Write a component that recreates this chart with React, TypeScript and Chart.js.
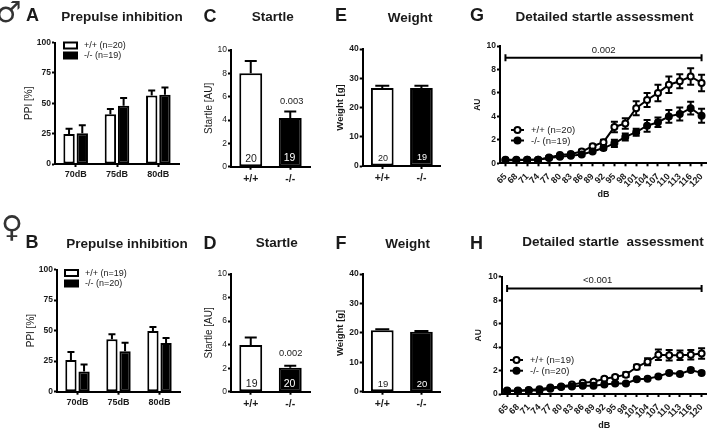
import React, { useEffect, useRef } from "react";
import Chart from "chart.js/auto";

const W = 707;
const H = 428;
const CANVAS_W = W + 20;
const SANS = '"Liberation Sans", Arial, sans-serif';
const INK = "#1a1a1a";

// ---- data ----
const ppiCategories = ["70dB", "75dB", "80dB"];
const genotypes = ["+/+", "-/-"];
const dbLevels = ["65", "68", "71", "74", "77", "80", "83", "86", "89", "92", "95", "98", "101", "104", "107", "110", "113", "116", "120"];

const ppiMaleWt = [24.7, 41, 56.3];
const ppiMaleWtErr = [4.3, 4.3, 4.1];
const ppiMaleKo = [25.3, 48, 57];
const ppiMaleKoErr = [6.6, 6.4, 6];
const ppiFemaleWt = [25.9, 43, 49.6];
const ppiFemaleWtErr = [6.5, 4, 3.4];
const ppiFemaleKo = [16.6, 33, 39.8];
const ppiFemaleKoErr = [5.7, 7, 4.2];

const startleMale = [8, 4.17];
const startleMaleErr = [1.06, 0.55];
const startleFemale = [3.97, 2.04];
const startleFemaleErr = [0.63, 0.16];

const weightMale = [26.7, 26.7];
const weightMaleErr = [0.7, 0.7];
const weightFemale = [20.9, 20.4];
const weightFemaleErr = [0.3, 0.2];

const detailMaleWt = [0.3, 0.3, 0.3, 0.3, 0.5, 0.7, 0.8, 1, 1.45, 1.8, 3.1, 3.4, 4.7, 5.4, 6, 6.7, 7, 7.4, 6.85];
const detailMaleWtErr = [0.1, 0.1, 0.1, 0.1, 0.1, 0.1, 0.1, 0.15, 0.15, 0.2, 0.45, 0.45, 0.6, 0.6, 0.7, 0.7, 0.6, 0.7, 0.7];
const detailMaleKo = [0.25, 0.25, 0.3, 0.3, 0.45, 0.55, 0.65, 0.75, 1, 1.3, 1.7, 2.25, 2.65, 3.2, 3.5, 4, 4.2, 4.7, 4.05];
const detailMaleKoErr = [0.1, 0.1, 0.1, 0.1, 0.1, 0.1, 0.1, 0.1, 0.1, 0.15, 0.3, 0.3, 0.3, 0.5, 0.4, 0.55, 0.55, 0.55, 0.6];

const detailFemaleWt = [0.3, 0.3, 0.35, 0.4, 0.55, 0.65, 0.8, 0.95, 1.05, 1.3, 1.45, 1.65, 2.3, 2.75, 3.35, 3.3, 3.3, 3.35, 3.45];
const detailFemaleWtErr = [0.1, 0.1, 0.1, 0.1, 0.1, 0.1, 0.1, 0.1, 0.1, 0.15, 0.15, 0.2, 0.2, 0.3, 0.45, 0.45, 0.4, 0.4, 0.45];
const detailFemaleKo = [0.25, 0.25, 0.3, 0.3, 0.45, 0.6, 0.65, 0.7, 0.7, 0.8, 0.9, 0.9, 1.25, 1.3, 1.5, 1.8, 1.7, 2.05, 1.8];
const detailFemaleKoErr = [0.1, 0.1, 0.1, 0.1, 0.1, 0.1, 0.1, 0.1, 0.1, 0.1, 0.1, 0.1, 0.1, 0.1, 0.12, 0.12, 0.12, 0.12, 0.12];

const bracketLevel = 9;

// ---- drawing helpers ----
type T = { t: string; x: number; y: number; f: string; c?: string; a?: CanvasTextAlign };
type L = { kind: "box" | "point"; filled: boolean; t: string; x0: number; x1: number; y: number; tx: number; font: string };

const panelPlugin = {
  id: "panelExtras",
  beforeDatasetsDraw(chart: any, _a: any, opts: any) {
    const ctx = chart.ctx;
    ctx.save();
    ctx.strokeStyle = "#000";
    ctx.lineWidth = 2;
    const y = chart.scales.y;
    chart.data.datasets.forEach((ds: any, di: number) => {
      if (!ds.errors) return;
      const meta = chart.getDatasetMeta(di);
      ds.errors.forEach((e: number, i: number) => {
        const px = meta.data[i].x;
        const v = ds.data[i];
        const top = y.getPixelForValue(v + e);
        const bot = opts.both ? y.getPixelForValue(v - e) : y.getPixelForValue(v);
        ctx.beginPath();
        ctx.moveTo(px, bot);
        ctx.lineTo(px, top);
        ctx.moveTo(px - opts.cap / 2, top);
        ctx.lineTo(px + opts.cap / 2, top);
        if (opts.both) {
          ctx.moveTo(px - opts.cap / 2, bot);
          ctx.lineTo(px + opts.cap / 2, bot);
        }
        ctx.stroke();
      });
    });
    ctx.restore();
  },
  afterDraw(chart: any, _a: any, opts: any) {
    const ctx = chart.ctx;
    ctx.save();
    (opts.legend || []).forEach((l: L) => {
      ctx.strokeStyle = "#000";
      ctx.fillStyle = l.filled ? "#000" : "#fff";
      ctx.lineWidth = 2;
      if (l.kind === "box") {
        ctx.fillRect(l.x0, l.y - 3, l.x1 - l.x0, 6);
        ctx.strokeRect(l.x0 + 1, l.y - 3, l.x1 - l.x0 - 2, 6);
      } else {
        ctx.beginPath();
        ctx.moveTo(l.x0, l.y);
        ctx.lineTo(l.x1, l.y);
        ctx.stroke();
        ctx.beginPath();
        ctx.arc((l.x0 + l.x1) / 2, l.y, 3, 0, Math.PI * 2);
        ctx.fill();
        ctx.stroke();
      }
      ctx.fillStyle = INK;
      ctx.font = l.font;
      ctx.textAlign = "left";
      ctx.textBaseline = "middle";
      ctx.fillText(l.t, l.tx, l.y + 0.5);
    });
    (opts.texts || []).forEach((t: T) => {
      ctx.fillStyle = t.c || INK;
      ctx.font = t.f;
      ctx.textAlign = t.a || "center";
      ctx.textBaseline = "middle";
      ctx.fillText(t.t, t.x, t.y);
    });
    ctx.restore();
  },
};

type Geo = { axisX: number; right: number; top: number; base: number; yW: number; xH: number };

function scales(g: Geo, max: number, step: number, yTitle: string, yTitleFont: any, yTick: any, xTick: any, xOpts: any = {}, xTitle?: string) {
  const axis = { color: "#000", width: 2, z: 1 };
  const grid = { drawOnChartArea: false, drawTicks: true, tickLength: 3, tickWidth: 2, tickColor: "#000", z: 1, offset: false };
  return {
    y: {
      min: 0,
      max,
      afterFit: (s: any) => { s.width = g.yW; },
      border: axis,
      grid,
      ticks: { stepSize: step, font: yTick, color: INK, padding: 1 },
      title: { display: true, text: yTitle, font: yTitleFont, color: INK, padding: 0 },
    },
    x: {
      offset: true,
      afterFit: (s: any) => { s.height = g.xH; },
      border: axis,
      grid,
      ticks: { font: xTick, color: INK, padding: 2, autoSkip: false, minRotation: 0, maxRotation: 0, ...xOpts },
      title: xTitle ? { display: true, text: xTitle, font: { family: SANS, size: 9, weight: "bold" }, color: INK, padding: 0 } : { display: false },
    },
  };
}

function layout(g: Geo) {
  return { padding: { left: g.axisX - g.yW, right: CANVAS_W - g.right, top: g.top, bottom: H - g.base - g.xH } };
}

const bold = (s: number) => ({ family: SANS, size: s, weight: "bold" });
const reg = (s: number) => ({ family: SANS, size: s, weight: "normal" });
const TITLE = `bold 13.5px ${SANS}`;
const LETTER = `bold 18px ${SANS}`;
const LEG = `9px ${SANS}`;

function ppiConfig(g: Geo, wt: number[], wtE: number[], ko: number[], koE: number[], extras: any) {
  const bar = { borderColor: "#000", borderWidth: 2, borderSkipped: false, barPercentage: 0.86, categoryPercentage: 0.64 };
  return {
    type: "bar",
    data: {
      labels: ppiCategories,
      datasets: [
        { label: genotypes[0], data: wt, errors: wtE, backgroundColor: "#fff", ...bar },
        { label: genotypes[1], data: ko, errors: koE, backgroundColor: "#000", ...bar },
      ],
    },
    options: {
      animation: false, responsive: false, layout: layout(g),
      scales: scales(g, 100, 25, "PPI [%]", reg(10), bold(8.5), bold(9)),
      plugins: { legend: { display: false }, tooltip: { enabled: false }, panelExtras: { both: false, cap: 7, ...extras } },
    },
  };
}

function twoBarConfig(g: Geo, vals: number[], errs: number[], max: number, step: number, yTitle: string, yTitleFont: any, yTick: any, extras: any) {
  return {
    type: "bar",
    data: {
      labels: genotypes,
      datasets: [{
        label: yTitle, data: vals, errors: errs,
        backgroundColor: ["#fff", "#000"], borderColor: "#000", borderWidth: 2, borderSkipped: false,
        barPercentage: 0.58, categoryPercentage: 1,
      }],
    },
    options: {
      animation: false, responsive: false, layout: layout(g),
      scales: scales(g, max, step, yTitle, yTitleFont, yTick, bold(10.5), { padding: 3 }),
      plugins: { legend: { display: false }, tooltip: { enabled: false }, panelExtras: { both: false, cap: 12, ...extras } },
    },
  };
}

function detailConfig(g: Geo, wt: number[], wtE: number[], ko: number[], koE: number[], extras: any) {
  const bracket = dbLevels.map((_, i) => (i === 0 || i === dbLevels.length - 1 ? bracketLevel : null));
  const line = { borderColor: "#000", borderWidth: 2, pointBorderColor: "#000", pointBorderWidth: 2, pointRadius: 3, tension: 0 };
  return {
    type: "line",
    data: {
      labels: dbLevels,
      datasets: [
        { label: "bracket", data: bracket, spanGaps: true, borderColor: "#000", borderWidth: 2, pointStyle: "line", rotation: 90, pointRadius: 3.5, pointBorderColor: "#000", pointBorderWidth: 2 },
        { label: genotypes[1], data: ko, errors: koE, backgroundColor: "#000", pointBackgroundColor: "#000", ...line },
        { label: genotypes[0], data: wt, errors: wtE, backgroundColor: "#fff", pointBackgroundColor: "#fff", ...line },
      ],
    },
    options: {
      animation: false, responsive: false, layout: layout(g),
      scales: scales(g, 10, 2, "AU", bold(8.5), bold(8.5), bold(9), { minRotation: 45, maxRotation: 45, padding: 5 }, "dB"),
      plugins: { legend: { display: false }, tooltip: { enabled: false }, panelExtras: { both: true, cap: 7, ...extras } },
    },
  };
}

const configs: any[] = [
  ppiConfig({ axisX: 55, right: 179, top: 42.5, base: 164, yW: 32, xH: 20 }, ppiMaleWt, ppiMaleWtErr, ppiMaleKo, ppiMaleKoErr, {
    legend: [
      { kind: "box", filled: false, t: "+/+ (n=20)", x0: 63, x1: 78, y: 45.5, tx: 84, font: LEG },
      { kind: "box", filled: true, t: "-/- (n=19)", x0: 63, x1: 78, y: 55.5, tx: 84, font: LEG },
    ],
    texts: [
      { t: "♂", x: 8.5, y: 14.5, f: `29px "DejaVu Sans"`, c: "#333" },
      { t: "A", x: 32.5, y: 16, f: LETTER },
      { t: "Prepulse inhibition", x: 122, y: 17, f: TITLE },
    ],
  }),
  ppiConfig({ axisX: 57, right: 180, top: 269.5, base: 391.7, yW: 32, xH: 20 }, ppiFemaleWt, ppiFemaleWtErr, ppiFemaleKo, ppiFemaleKoErr, {
    legend: [
      { kind: "box", filled: false, t: "+/+ (n=19)", x0: 64, x1: 79, y: 273, tx: 85, font: LEG },
      { kind: "box", filled: true, t: "-/- (n=20)", x0: 64, x1: 79, y: 283.5, tx: 85, font: LEG },
    ],
    texts: [
      { t: "♀", x: 12, y: 229, f: `30px "DejaVu Sans"`, c: "#333" },
      { t: "B", x: 32, y: 243, f: LETTER },
      { t: "Prepulse inhibition", x: 127, y: 244, f: TITLE },
    ],
  }),
  twoBarConfig({ axisX: 231, right: 310, top: 50, base: 166.7, yW: 28, xH: 20 }, startleMale, startleMaleErr, 10, 2, "Startle [AU]", reg(10), reg(8.5), {
    texts: [
      { t: "C", x: 210, y: 17, f: LETTER },
      { t: "Startle", x: 272.7, y: 17, f: TITLE },
      { t: "20", x: 251, y: 159, f: `10.5px ${SANS}` },
      { t: "19", x: 289.5, y: 158, f: `10.5px ${SANS}`, c: "#fff" },
      { t: "0.003", x: 291.7, y: 101.7, f: `9.3px ${SANS}` },
    ],
  }),
  twoBarConfig({ axisX: 231, right: 310, top: 274, base: 391.7, yW: 28, xH: 20 }, startleFemale, startleFemaleErr, 10, 2, "Startle [AU]", reg(10), reg(8.5), {
    texts: [
      { t: "D", x: 210, y: 244, f: LETTER },
      { t: "Startle", x: 276.7, y: 243, f: TITLE },
      { t: "19", x: 251.7, y: 384, f: `10.5px ${SANS}` },
      { t: "20", x: 289.5, y: 384, f: `10.5px ${SANS}`, c: "#fff" },
      { t: "0.002", x: 290.7, y: 353, f: `9.3px ${SANS}` },
    ],
  }),
  twoBarConfig({ axisX: 362.7, right: 441, top: 49, base: 166, yW: 28, xH: 20 }, weightMale, weightMaleErr, 40, 10, "Weight [g]", bold(9.5), bold(8.5), {
    cap: 14,
    texts: [
      { t: "E", x: 341, y: 16, f: LETTER },
      { t: "Weight", x: 410, y: 18.5, f: TITLE },
      { t: "20", x: 383, y: 158.5, f: `9px ${SANS}` },
      { t: "19", x: 422, y: 158, f: `9px ${SANS}`, c: "#fff" },
    ],
  }),
  twoBarConfig({ axisX: 362.7, right: 441, top: 274, base: 391.7, yW: 28, xH: 20 }, weightFemale, weightFemaleErr, 40, 10, "Weight [g]", bold(9.5), bold(8.5), {
    cap: 14,
    texts: [
      { t: "F", x: 341, y: 244, f: LETTER },
      { t: "Weight", x: 407.5, y: 244, f: TITLE },
      { t: "19", x: 383, y: 384, f: `9.5px ${SANS}` },
      { t: "20", x: 422, y: 384, f: `9.5px ${SANS}`, c: "#fff" },
    ],
  }),
  detailConfig({ axisX: 500, right: 707, top: 46, base: 163.3, yW: 27, xH: 36.5 }, detailMaleWt, detailMaleWtErr, detailMaleKo, detailMaleKoErr, {
    legend: [
      { kind: "point", filled: false, t: "+/+ (n=20)", x0: 511, x1: 524, y: 130, tx: 531, font: `9.5px ${SANS}` },
      { kind: "point", filled: true, t: "-/- (n=19)", x0: 511, x1: 524, y: 140.5, tx: 531, font: `9.5px ${SANS}` },
    ],
    texts: [
      { t: "G", x: 477, y: 16, f: LETTER },
      { t: "Detailed startle assessment", x: 604.5, y: 17.5, f: TITLE },
      { t: "0.002", x: 603.7, y: 50.7, f: `9.5px ${SANS}` },
    ],
  }),
  detailConfig({ axisX: 501.7, right: 707, top: 276.7, base: 394, yW: 28.5, xH: 36.5 }, detailFemaleWt, detailFemaleWtErr, detailFemaleKo, detailFemaleKoErr, {
    legend: [
      { kind: "point", filled: false, t: "+/+ (n=19)", x0: 510, x1: 523, y: 360, tx: 530, font: `9.5px ${SANS}` },
      { kind: "point", filled: true, t: "-/- (n=20)", x0: 510, x1: 523, y: 370.7, tx: 530, font: `9.5px ${SANS}` },
    ],
    texts: [
      { t: "H", x: 476.5, y: 244, f: LETTER },
      { t: "Detailed startle  assessment", x: 613, y: 242, f: TITLE },
      { t: "<0.001", x: 597.7, y: 280, f: `9.5px ${SANS}` },
    ],
  }),
];

function Panel({ config }: { config: any }) {
  const ref = useRef<HTMLCanvasElement>(null);
  useEffect(() => {
    const chart = new Chart(ref.current as any, { ...config, plugins: [panelPlugin] });
    return () => chart.destroy();
  }, [config]);
  return <canvas ref={ref} width={CANVAS_W} height={H} style={{ position: "absolute", left: 0, top: 0, width: CANVAS_W, height: H, display: "block", filter: "blur(0.35px)" }} />;
}

export default function App() {
  return (
    <div style={{ position: "absolute", left: 0, top: 0, width: W, height: H, background: "#fff", overflow: "hidden" }}>
      {configs.map((c, i) => <Panel key={i} config={c} />)}
    </div>
  );
}
